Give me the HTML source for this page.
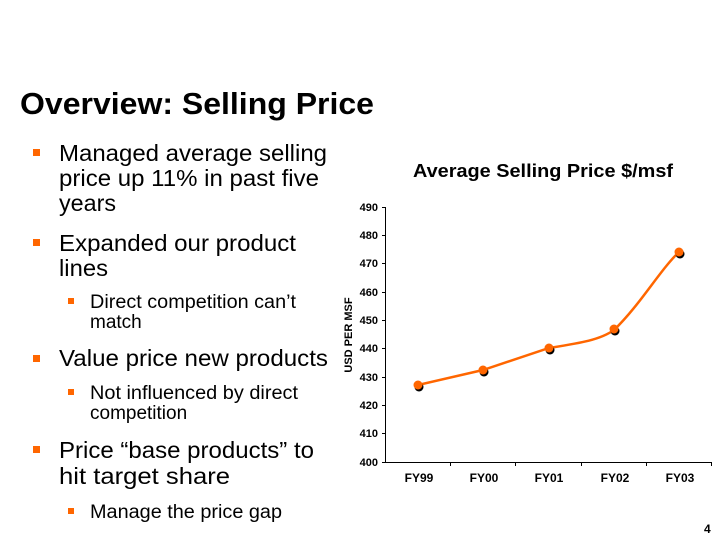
<!DOCTYPE html>
<html><head><style>
body{margin:0;background:#fff;}
svg{display:block;font-family:"Liberation Sans",Arial,sans-serif;}
</style></head><body>
<svg width="720" height="540" xmlns="http://www.w3.org/2000/svg">
<text x="20" y="114" font-size="31" font-weight="bold" fill="#000" textLength="354" lengthAdjust="spacingAndGlyphs">Overview: Selling Price</text>
<g font-size="23" fill="#000">
<rect x="33" y="149" width="7" height="7" fill="#FF6600"/>
<text x="59" y="161" textLength="268" lengthAdjust="spacingAndGlyphs">Managed average selling</text>
<text x="59" y="186" textLength="260" lengthAdjust="spacingAndGlyphs">price up 11% in past five</text>
<text x="59" y="211" textLength="57" lengthAdjust="spacingAndGlyphs">years</text>
<rect x="33" y="239" width="7" height="7" fill="#FF6600"/>
<text x="59" y="251" textLength="237" lengthAdjust="spacingAndGlyphs">Expanded our product</text>
<text x="59" y="276" textLength="49" lengthAdjust="spacingAndGlyphs">lines</text>
<rect x="33" y="355" width="7" height="7" fill="#FF6600"/>
<text x="59" y="366" textLength="269" lengthAdjust="spacingAndGlyphs">Value price new products</text>
<rect x="33" y="446" width="7" height="7" fill="#FF6600"/>
<text x="59" y="458" textLength="255" lengthAdjust="spacingAndGlyphs">Price “base products” to</text>
<text x="59" y="484" textLength="171" lengthAdjust="spacingAndGlyphs">hit target share</text>
</g>
<g font-size="19" fill="#000">
<rect x="68" y="298" width="6" height="6" fill="#FF6600"/>
<text x="90" y="308" textLength="206" lengthAdjust="spacingAndGlyphs">Direct competition can’t</text>
<text x="90" y="328">match</text>
<rect x="68" y="389" width="6" height="6" fill="#FF6600"/>
<text x="90" y="399" textLength="208" lengthAdjust="spacingAndGlyphs">Not influenced by direct</text>
<text x="90" y="419">competition</text>
<rect x="68" y="508" width="6" height="6" fill="#FF6600"/>
<text x="90" y="518" textLength="192" lengthAdjust="spacingAndGlyphs">Manage the price gap</text>
</g>
<text x="413" y="177" font-size="18" font-weight="bold" textLength="260" lengthAdjust="spacingAndGlyphs">Average Selling Price $/msf</text>
<g stroke="#000" stroke-width="1" fill="none">
<line x1="385.5" y1="207" x2="385.5" y2="462"/>
<line x1="385" y1="462.5" x2="712" y2="462.5"/>
<g>
<line x1="382" y1="207.5" x2="385" y2="207.5"/><line x1="382" y1="235.5" x2="385" y2="235.5"/>
<line x1="382" y1="263.5" x2="385" y2="263.5"/><line x1="382" y1="292.5" x2="385" y2="292.5"/>
<line x1="382" y1="320.5" x2="385" y2="320.5"/><line x1="382" y1="348.5" x2="385" y2="348.5"/>
<line x1="382" y1="377.5" x2="385" y2="377.5"/><line x1="382" y1="405.5" x2="385" y2="405.5"/>
<line x1="382" y1="433.5" x2="385" y2="433.5"/><line x1="382" y1="462.5" x2="385" y2="462.5"/>
<line x1="450.5" y1="462" x2="450.5" y2="466"/><line x1="515.5" y1="462" x2="515.5" y2="466"/>
<line x1="581.5" y1="462" x2="581.5" y2="466"/><line x1="646.5" y1="462" x2="646.5" y2="466"/>
<line x1="711.5" y1="462" x2="711.5" y2="466"/>
</g></g>
<g font-size="11" font-weight="bold" text-anchor="end">
<text x="378" y="211">490</text><text x="378" y="239">480</text><text x="378" y="267">470</text>
<text x="378" y="296">460</text><text x="378" y="324">450</text><text x="378" y="352">440</text>
<text x="378" y="381">430</text><text x="378" y="409">420</text><text x="378" y="437">410</text>
<text x="378" y="466">400</text>
</g>
<g font-size="12" font-weight="bold" text-anchor="middle">
<text x="419" y="482">FY99</text><text x="484" y="482">FY00</text><text x="549" y="482">FY01</text>
<text x="615" y="482">FY02</text><text x="680" y="482">FY03</text>
</g>
<text transform="translate(352,335) rotate(-90)" font-size="11" font-weight="bold" text-anchor="middle">USD PER MSF</text>
<path d="M418,385 L483,370 L549,348 C580,343 600,340 614,330 C640,305 660,270 679,252" stroke="#FF6600" stroke-width="2.5" fill="none"/>
<g fill="#000">
<circle cx="419" cy="387" r="4.5"/><circle cx="484" cy="372" r="4.5"/><circle cx="550" cy="350" r="4.5"/>
<circle cx="615" cy="331" r="4.5"/><circle cx="680" cy="254" r="4.5"/>
</g>
<g fill="#FF6600">
<circle cx="418" cy="385" r="4.5"/><circle cx="483" cy="370" r="4.5"/><circle cx="549" cy="348" r="4.5"/>
<circle cx="614" cy="329" r="4.5"/><circle cx="679" cy="252" r="4.5"/>
</g>
<text x="704" y="533" font-size="12" font-weight="bold">4</text>
</svg>
</body></html>
